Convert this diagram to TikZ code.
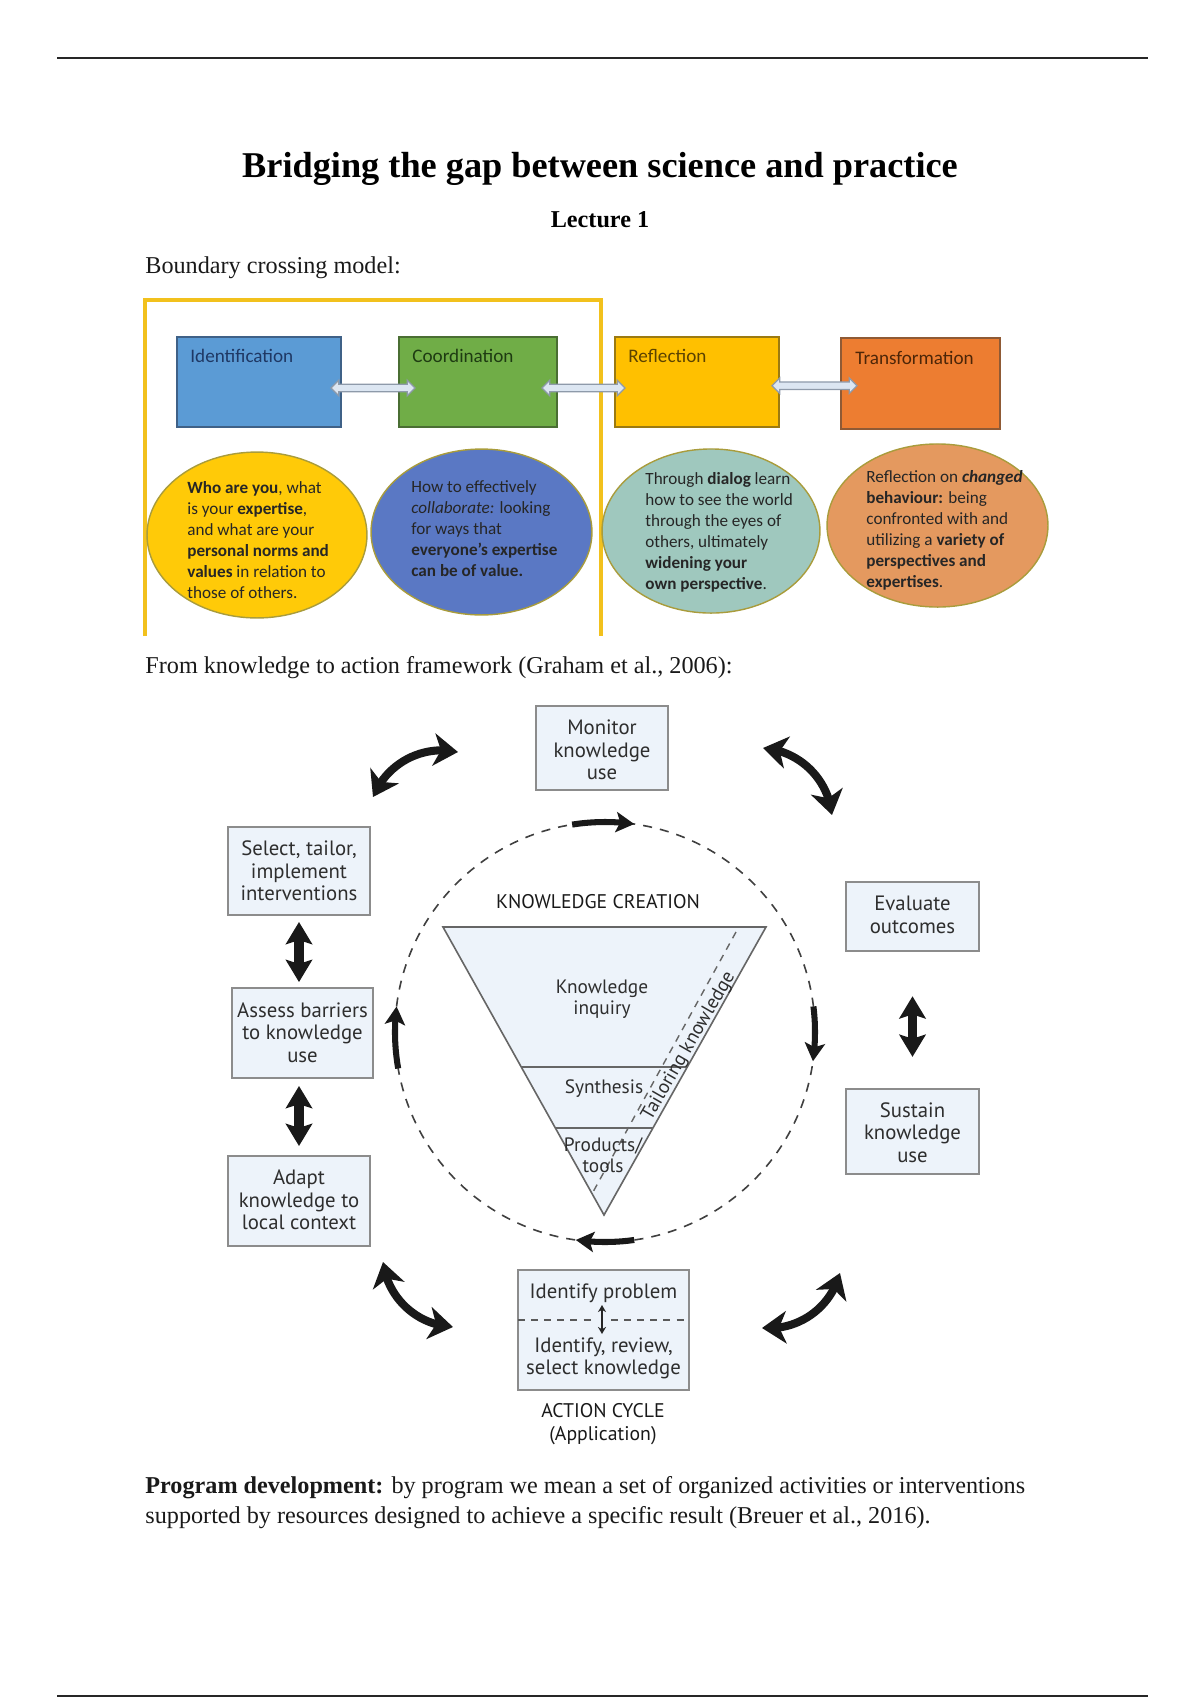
\documentclass[tikz,border=0pt]{standalone}
\usepackage{fontspec}
\setmainfont{Liberation Serif}
\newfontfamily\calfont{Carlito}
\newfontfamily\ktafont{PT Sans}
\usetikzlibrary{arrows.meta,shapes.geometric,shapes.arrows,fit,calc,bending}
\definecolor{idfill}{HTML}{5B9BD5}\definecolor{idedge}{HTML}{3F6187}\definecolor{idtxt}{HTML}{1F3864}
\definecolor{cofill}{HTML}{70AD47}\definecolor{coedge}{HTML}{4A6E33}\definecolor{cotxt}{HTML}{1E3B12}
\definecolor{refill}{HTML}{FFC000}\definecolor{reedge}{HTML}{9C7A10}\definecolor{retxt}{HTML}{5C4300}
\definecolor{trfill}{HTML}{ED7D31}\definecolor{tredge}{HTML}{8F5A35}\definecolor{trtxt}{HTML}{4D2608}
\definecolor{ey}{HTML}{FFCA08}\definecolor{eb}{HTML}{5A78C4}\definecolor{et}{HTML}{9FC8BE}\definecolor{eo}{HTML}{E4995F}
\definecolor{eedge}{HTML}{A99C3C}\definecolor{etxt}{HTML}{262626}
\definecolor{framey}{HTML}{F2C11D}
\definecolor{arrowfill}{HTML}{DCE6F2}\definecolor{arrowedge}{HTML}{8E9AAA}
\definecolor{kfill}{HTML}{EDF3FA}\definecolor{kedge}{HTML}{8C8C8C}\definecolor{ktxt}{HTML}{2E2E2E}
\tikzset{
  pagerule/.style={line width=1.2pt, draw=black!85},
  ttl/.style={font=\bfseries\fontsize{18}{22}\selectfont, inner sep=0, anchor=base},
  subttl/.style={font=\bfseries\fontsize{12}{14}\selectfont, inner sep=0, anchor=base},
  bodytxt/.style={font=\fontsize{12}{14}\selectfont, inner sep=0, anchor=base west, text=black!90},
  cbox/.style={inner sep=0, line width=0.9pt},
  clbl/.style={font=\calfont\fontsize{9.5}{11}\selectfont, inner sep=0, anchor=west},
  hollow/.style={double arrow, draw=arrowedge, fill=arrowfill, line width=0.6pt, inner xsep=0pt, inner ysep=1.6pt, double arrow head extend=2pt},
  ell/.style={ellipse, inner sep=0, line width=0.7pt, draw=eedge},
  etext/.style={font=\calfont\fontsize{8.5}{10.4}\selectfont, align=left, anchor=west, inner sep=0, text=etxt},
  yframe/.style={draw=framey, line width=1.5pt},
  kbox/.style={draw=kedge, fill=kfill, line width=0.9pt, inner sep=0},
  ktext/.style={inner sep=0, align=center, font=\ktafont\fontsize{10.3}{11.2}\selectfont, text=ktxt},
  tritext/.style={inner sep=0, align=center, font=\ktafont\fontsize{9.6}{10.6}\selectfont, text=ktxt},
  capslbl/.style={inner sep=0, align=center, font=\ktafont\fontsize{9.8}{11.1}\selectfont, text=black!90},
  dashcirc/.style={draw=black!75, line width=0.8pt, dash pattern=on 4.5pt off 4pt},
  tri/.style={draw=black!60, fill=kfill, line width=0.8pt},
  trline/.style={draw=black!60, line width=0.8pt},
  trdash/.style={draw=black!60, line width=0.7pt, dash pattern=on 3.5pt off 3pt},
  vdarrow/.style={draw=black!90, line width=4.5pt, {Stealth[length=11pt,width=13pt,inset=2pt]}-{Stealth[length=11pt,width=13pt,inset=2pt]}},
  curvarrow/.style={draw=black!90, line width=4pt, {Stealth[length=12pt,width=16pt,inset=3.5pt]}-{Stealth[length=12pt,width=16pt,inset=3.5pt]}},
  circarrow/.style={draw=black!90, line width=3pt, -{Stealth[length=9pt,width=10pt,inset=2pt]}},
  smallarrow/.style={draw=black!85, line width=1.1pt, {Stealth[length=3.5pt,width=4pt]}-{Stealth[length=3.5pt,width=4pt]}}
}
\begin{document}
\begin{tikzpicture}[x=0.49606pt, y=-0.49606pt]
\useasboundingbox (0,0) rectangle (1200,1700);
% page rules
\coordinate (rtl) at (57,58); \coordinate (rtr) at (1148,58);
\coordinate (rbl) at (57,1696); \coordinate (rbr) at (1148,1696);
\draw[pagerule] (rtl) -- (rtr);
\draw[pagerule] (rbl) -- (rbr);
% titles
\node[ttl] (title) at (600,177) {Bridging the gap between science and practice};
\node[subttl] (lecture) at (600,227) {Lecture 1};
\node[bodytxt] (bcm) at (145,273) {Boundary crossing model:};

% ===== boundary crossing model =====
\coordinate (f1) at (145,636); \coordinate (f2) at (145,300);
\coordinate (f3) at (601,300); \coordinate (f4) at (601,636);
\draw[yframe] (f1) -- (f2) -- (f3) -- (f4);

\node[cbox, fit={(177,337) (341,427)}, draw=idedge, fill=idfill] (ident) {};
\node[cbox, fit={(399,337) (557,427)}, draw=coedge, fill=cofill] (coord) {};
\node[cbox, fit={(615,337) (779,427)}, draw=reedge, fill=refill] (refl) {};
\node[cbox, fit={(841,338) (1000,429)}, draw=tredge, fill=trfill] (trans) {};
\node[clbl, text=idtxt] (identlbl) at (190,356) {Identification};
\node[clbl, text=cotxt] (coordlbl) at (412,356) {Coordination};
\node[clbl, text=retxt] (refllbl) at (628,356) {Reflection};
\node[clbl, text=trtxt] (translbl) at (855,358) {Transformation};

\node[hollow, minimum height=41.7pt] (a1) at ($(ident.east)!0.5!(coord.west)+(3,6)$) {};
\node[hollow, minimum height=41.2pt] (a2) at ($(coord.east)!0.5!(refl.west)+(-2.5,6)$) {};
\node[hollow, minimum height=42.2pt] (a3) at ($(refl.east)!0.5!(trans.west)+(4.5,3)$) {};

\node[ell, fill=ey, minimum width=109.1pt, minimum height=82.3pt] (e1) at (257,535) {};
\node[ell, fill=eb, minimum width=109.6pt, minimum height=82.3pt] (e2) at (481.5,532) {};
\node[ell, fill=et, minimum width=108.1pt, minimum height=81.4pt] (e3) at (711,531) {};
\node[ell, fill=eo, minimum width=109.6pt, minimum height=80.9pt] (e4) at (937.5,525.5) {};

\node[etext] (t1) at (187,540) {\textbf{Who are you}, what\\is your \textbf{expertise},\\and what are your\\\textbf{personal norms and}\\\textbf{values} in relation to\\those of others.};
\node[etext] (t2) at (411,529) {How to effectively\\\textit{collaborate:} looking\\for ways that\\\textbf{everyone’s expertise}\\\textbf{can be of value.}};
\node[etext] (t3) at (645,532.5) {Through \textbf{dialog} learn\\how to see the world\\through the eyes of\\others, ultimately\\\textbf{widening your}\\\textbf{own perspective}.};
\node[etext] (t4) at (866,530.5) {Reflection on \textbf{\textit{changed}}\\\textbf{behaviour:} being\\confronted with and\\utilizing a \textbf{variety of}\\\textbf{perspectives and}\\\textbf{expertises}.};

\node[bodytxt] (k2a) at (145,673) {From knowledge to action framework (Graham et al., 2006):};

% ===== knowledge to action =====
\coordinate (cc) at (605,1032);
\draw[dashcirc] (cc) circle[radius=210];

% triangle
\coordinate (T1) at (443,927); \coordinate (T2) at (766,927); \coordinate (T3) at (604,1215);
\draw[tri] (T1) -- (T2) -- (T3) -- cycle;
\draw[trline] ($(T1)!0.486!(T3)$) -- ($(T2)!0.486!(T3)$);
\draw[trline] ($(T1)!0.698!(T3)$) -- ($(T2)!0.698!(T3)$);
\coordinate (D1) at (736,932); \coordinate (D2) at (593,1192);
\draw[trdash] (D1) -- (D2);
\node[capslbl] (kc) at (598,902) {KNOWLEDGE CREATION};
\node[tritext] (ki) at (602,999) {Knowledge\\inquiry};
\node[tritext] (syn) at (604,1089) {Synthesis};
\node[tritext] (prod) at (603,1155) {Products/\\tools};
\node[tritext, rotate=60] (tail) at (689,1046) {Tailoring knowledge};

% boxes
\node[kbox, fit={(536,706) (668,790)}] (monitor) {};
\node[kbox, fit={(228,827) (370,915)}] (select) {};
\node[kbox, fit={(232,988) (373,1078)}] (assess) {};
\node[kbox, fit={(228,1156) (370,1246)}] (adapt) {};
\node[kbox, fit={(846,882) (979,951)}] (evaluate) {};
\node[kbox, fit={(846,1089) (979,1174)}] (sustain) {};
\node[kbox, fit={(518,1270) (689,1390)}] (idbox) {};
\node[ktext] (monitortxt) at (602,750) {Monitor\\knowledge\\use};
\node[ktext] (selecttxt) at (299,871) {Select, tailor,\\implement\\interventions};
\node[ktext] (assesstxt) at (302.5,1032.5) {Assess barriers\\to knowledge\\use};
\node[ktext] (adapttxt) at (299,1200) {Adapt\\knowledge to\\local context};
\node[ktext] (evaltxt) at (912.5,915) {Evaluate\\outcomes};
\node[ktext] (sustaintxt) at (912.5,1132.5) {Sustain\\knowledge\\use};
\node[ktext] (idprob) at (603.5,1293) {Identify problem};
\node[ktext] (idrev) at (603.5,1358.5) {Identify, review,\\select knowledge};
\coordinate (dv1) at (518,1320); \coordinate (dv2) at (594,1320);
\coordinate (dv3) at (611,1320); \coordinate (dv4) at (689,1320);
\draw[trdash, draw=black!65] (dv1) -- (dv2);
\draw[trdash, draw=black!65] (dv3) -- (dv4);
\coordinate (sa1) at (602,1305); \coordinate (sa2) at (602,1334);
\draw[smallarrow] (sa1) -- (sa2);
\node[capslbl] (ac) at (603,1424) {ACTION CYCLE\\(Application)};

% straight double arrows
\draw[vdarrow, shorten <=3pt, shorten >=2.5pt] (select.south) -- (select.south |- assess.north);
\draw[vdarrow, shorten <=3.5pt, shorten >=4.5pt] (assess.south -| select.south) -- (adapt.north);
\draw[vdarrow, shorten <=22pt, shorten >=15.5pt] (evaluate.south) -- (sustain.north);

% curved double arrows
\coordinate (ca1) at (373,797); \coordinate (cb1) at (458,752);
\draw[curvarrow] (ca1) .. controls (386.7,763.2) and (422.3,744.3) .. (cb1);
\coordinate (ca2) at (763,748); \coordinate (cb2) at (832,815);
\draw[curvarrow] (ca2) .. controls (799.4,750.7) and (828.3,778.7) .. (cb2);
\coordinate (ca3) at (840,1273); \coordinate (cb3) at (762,1328);
\draw[curvarrow] (ca3) .. controls (830.7,1308.1) and (798.2,1331) .. (cb3);
\coordinate (ca4) at (453,1327); \coordinate (cb4) at (383,1262);
\draw[curvarrow] (ca4) .. controls (416.7,1325.1) and (387.5,1298) .. (cb4);

% arrows on the circle (clockwise)
\draw[circarrow] ($(cc)+(-99:210)$) arc[start angle=-99, end angle=-82, radius=210];
\draw[circarrow] ($(cc)+(-7:210)$) arc[start angle=-7, end angle=8, radius=210];
\draw[circarrow] ($(cc)+(82:210)$) arc[start angle=82, end angle=98, radius=210];
\draw[circarrow] ($(cc)+(170:210)$) arc[start angle=170, end angle=187, radius=210];

% paragraph
\node[bodytxt] (p1) at (145,1493) {\textbf{Program development:} by program we mean a set of organized activities or interventions};
\node[bodytxt] (p2) at (145,1523) {supported by resources designed to achieve a specific result (Breuer et al., 2016).};
\end{tikzpicture}
\end{document}
